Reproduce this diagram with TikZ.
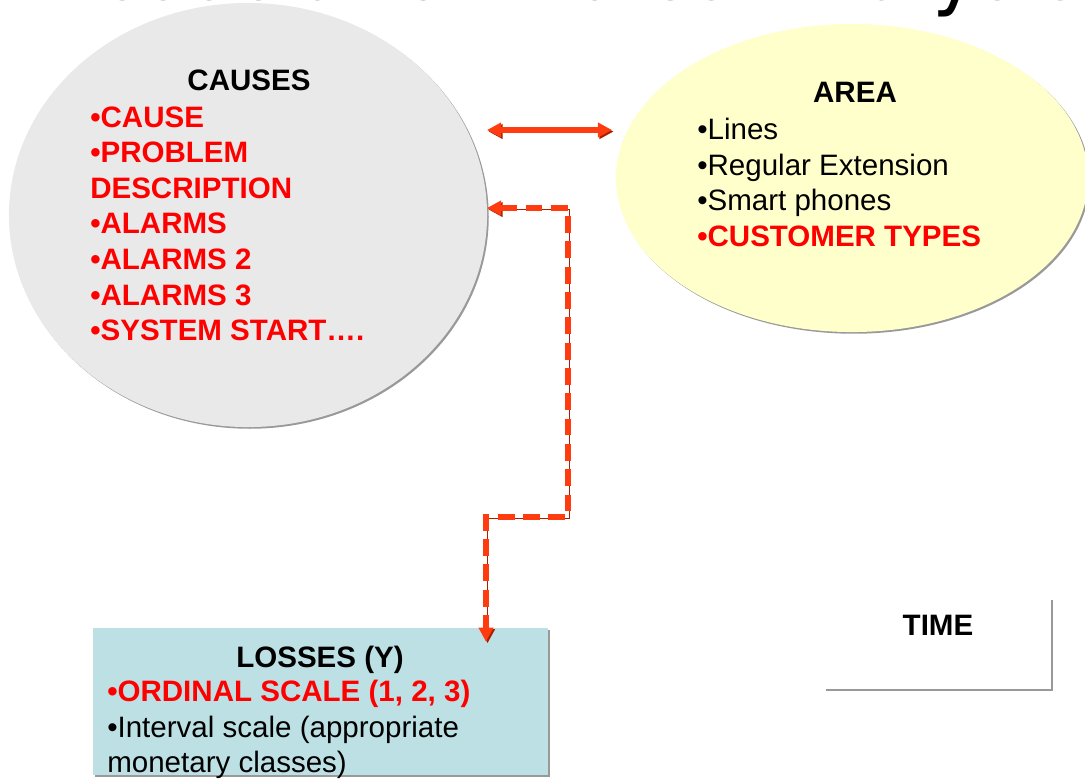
\documentclass[tikz,border=0pt]{standalone}
\usepackage{fontspec}
\setmainfont{Liberation Sans}
\newfontfamily\headfont{DejaVu Sans}
\usetikzlibrary{
    arrows.meta,
    shapes.geometric,
    shadows
}
\definecolor{causegray}{RGB}{233,233,233}
\definecolor{areayellow}{RGB}{255,255,204}
\definecolor{lossteal}{RGB}{188,224,228}
\definecolor{linkred}{RGB}{255,60,16}
\definecolor{linkshade}{RGB}{165,32,0}
\definecolor{itemred}{RGB}{255,0,0}

\begin{document}
\begin{tikzpicture}[x=0.025cm, y=-0.025cm,
    every node/.style={inner sep=0pt, font=\fontsize{21}{25.25}\selectfont},
    rim/.style={drop shadow={shadow xshift=1.2pt, shadow yshift=-1.2pt, fill=black!40, opacity=1}},
    heading/.style={anchor=base, font=\fontsize{21}{25.25}\selectfont\bfseries},
    items/.style={anchor=base west, align=left},
    link/.style={draw=linkred, line width=3.6pt, {Triangle[length=10pt, width=10pt]}-{Triangle[length=10pt, width=10pt]},
        preaction={draw=linkshade, transform canvas={shift={(1.1pt,-1.1pt)}}}},
    dashlink/.style={link, dash pattern=on 12pt off 6pt}
]
    \useasboundingbox (0,0) rectangle (1085,778);

    % title, cut off by the page edge
    \node[anchor=base west, font=\headfont\fontsize{60}{60}\selectfont] (title) at (50, -1)
        {\scalebox{0.93}[1]{Association Rules Analysis}};

    % the three groups
    \node[rim, ellipse, fill=causegray, minimum width=11.95cm, minimum height=10.6cm] (causes) at (248, 215) {};
    \node[rim, ellipse, fill=areayellow, minimum width=11.8cm, minimum height=7.7cm] (area) at (852, 178) {};
    \node[rim, rectangle, fill=lossteal, minimum width=11.375cm, minimum height=3.675cm] (losses) at (320.5, 701.5) {};

    % lists: base is the last line
    \node[heading] (causeshead) at (249, 90.5) {CAUSES};
    \node[items, text=itemred, font=\fontsize{21}{25.25}\selectfont\bfseries] (causeslist) at (90, 340.5)
        {•CAUSE\\•PROBLEM\\DESCRIPTION\\•ALARMS\\•ALARMS 2\\•ALARMS 3\\•SYSTEM START….};

    \node[heading] (areahead) at (855, 102.5) {AREA};
    \node[items] (arealist) at (697, 246.5)
        {•Lines\\•Regular Extension\\•Smart phones\\{\color{itemred}\bfseries •CUSTOMER TYPES}};

    \node[heading] (losshead) at (320, 667.5) {LOSSES (Y)};
    \node[items] (losslist) at (107, 772.5)
        {{\color{itemred}\bfseries •ORDINAL SCALE (1, 2, 3)}\\•Interval scale (appropriate\\monetary classes)};

    \node[heading] (time) at (938, 635.5) {TIME};
    \draw[black!40, line width=1.6pt] (1052, 600) -- (1052, 690) -- (826, 690);

    % links
    \coordinate (causesR) at (487, 130);
    \coordinate (areaL) at (612, 130);
    \coordinate (causesD) at (487, 208);
    \coordinate (turn1) at (568, 208);
    \coordinate (turn2) at (568, 517);
    \coordinate (drop) at (486, 517);
    \draw[link] (causesR) -- (areaL);
    \draw[dashlink, shorten >=-0.35cm] (causesD) -- (turn1) -- (turn2) -- (drop) -- (drop |- losses.north);
\end{tikzpicture}
\end{document}
